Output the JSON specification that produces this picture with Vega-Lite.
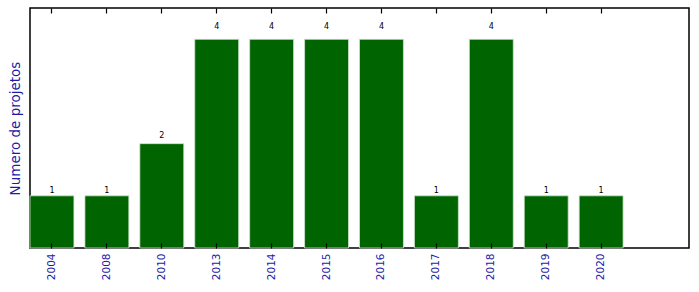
{
  "$schema": "https://vega.github.io/schema/vega-lite/v6.json",
  "width": 659,
  "height": 240,
  "autosize": {"type": "none"},
  "padding": {"left": 30, "top": 8, "right": 10, "bottom": 44},
  "background": "white",
  "config": {
    "view": {"stroke": "black", "strokeWidth": 1.5, "strokeOpacity": 1},
    "font": "DejaVu Sans"
  },
  "data": {
    "values": [
      {"ano": "2004", "projetos": 1},
      {"ano": "2008", "projetos": 1},
      {"ano": "2010", "projetos": 2},
      {"ano": "2013", "projetos": 4},
      {"ano": "2014", "projetos": 4},
      {"ano": "2015", "projetos": 4},
      {"ano": "2016", "projetos": 4},
      {"ano": "2017", "projetos": 1},
      {"ano": "2018", "projetos": 4},
      {"ano": "2019", "projetos": 1},
      {"ano": "2020", "projetos": 1}
    ]
  },
  "layer": [
    {
      "mark": {"type": "bar", "color": "#006400", "stroke": "#cfe3cf", "strokeWidth": 0.8},
      "encoding": {
        "x": {
          "field": "ano",
          "type": "nominal",
          "sort": null,
          "scale": {"paddingInner": 0.2, "paddingOuter": 0.6, "align": 0},
          "axis": {
            "orient": "bottom",
            "title": null,
            "domain": false,
            "ticks": true,
            "offset": -5,
            "tickSize": 5,
            "tickColor": "black",
            "tickWidth": 1.2,
            "zindex": 2,
            "labelAngle": 270,
            "labelAlign": "right",
            "labelBaseline": "middle",
            "labelPadding": 5,
            "labelColor": "#1c1ca8",
            "labelFontSize": 10.5,
            "labelFont": "DejaVu Sans"
          }
        },
        "y": {
          "field": "projetos",
          "type": "quantitative",
          "scale": {"domain": [0, 4.6], "nice": false, "zero": true},
          "axis": {
            "title": "Numero de projetos",
            "labels": false,
            "ticks": false,
            "domain": false,
            "grid": false,
            "titleColor": "#1c1ca8",
            "titleFontSize": 13.5,
            "titleFontWeight": "normal",
            "titleFont": "DejaVu Sans",
            "titlePadding": 8
          }
        }
      }
    },
    {
      "mark": {"type": "text", "fontSize": 8, "fill": "black", "baseline": "alphabetic", "align": "center", "font": "DejaVu Sans"},
      "encoding": {
        "x": {
          "field": "ano",
          "type": "nominal",
          "sort": null,
          "axis": {
            "orient": "top",
            "title": null,
            "labels": false,
            "domain": false,
            "ticks": true,
            "offset": -5,
            "tickSize": 5,
            "tickColor": "black",
            "tickWidth": 1.2,
            "zindex": 2
          }
        },
        "y": {
          "field": "projetos",
          "type": "quantitative",
          "scale": {"domain": [0, 4.38095], "nice": false, "zero": true},
          "axis": null
        },
        "text": {"field": "projetos", "type": "quantitative"}
      }
    }
  ],
  "resolve": {"scale": {"y": "independent"}, "axis": {"x": "independent"}}
}
